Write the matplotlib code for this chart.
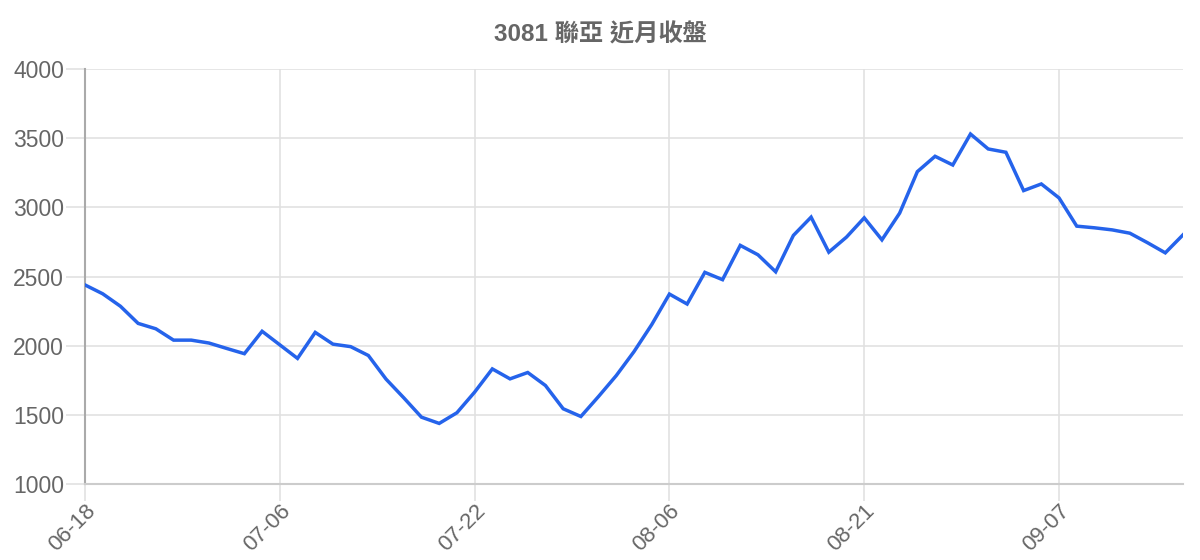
import numpy as np
import matplotlib
matplotlib.use("Agg")
import matplotlib.pyplot as plt

# closing prices (63 trading days)
close = [2439, 2375, 2285, 2161, 2122, 2040, 2040, 2019, 1980, 1942,
         2104, 2006, 1908, 2096, 2011, 1993, 1929, 1758, 1623, 1483,
         1438, 1515, 1664, 1832, 1760, 1806, 1712, 1544, 1488, 1633,
         1784, 1957, 2152, 2373, 2301, 2530, 2477, 2725, 2657, 2534,
         2797, 2929, 2676, 2785, 2924, 2765, 2958, 3258, 3369, 3306,
         3530, 3422, 3398, 3121, 3169, 3068, 2864, 2852, 2837, 2813,
         2744, 2671, 2801]
tick_idx = [0, 11, 22, 33, 44, 55]
tick_labels = ["06-18", "07-06", "07-22", "08-06", "08-21", "09-07"]
y_ticks = [1000, 1500, 2000, 2500, 3000, 3500, 4000]

title = "3081 聯亞 近月收盤"

grey = "#666666"
gridc = "#e1e1e1"

fig = plt.figure(figsize=(12, 5.6), dpi=100)
ax = fig.add_axes([85/1200, 1-484/560, (1183-85)/1200, (484-69)/560])

x = np.arange(len(close))
ax.plot(x, close, color="#2563eb", linewidth=2.5, solid_joinstyle="miter", zorder=3)

ax.set_xlim(0, len(close) - 1)
ax.set_ylim(1000, 4000)
ax.set_xticks(tick_idx)
ax.set_xticklabels(tick_labels, rotation=45, ha="right", va="top",
                   rotation_mode="anchor", fontsize=16, color=grey,
                   family=["Liberation Sans", "DejaVu Sans"])
ax.set_yticks(y_ticks)
ax.set_yticklabels([str(v) for v in y_ticks], fontsize=16.5, color=grey,
                   family=["Liberation Sans", "DejaVu Sans"])

ax.grid(True, color=gridc, linewidth=1.2)
ax.tick_params(axis="y", length=14, width=1.2, color=gridc, pad=1)
ax.tick_params(axis="x", length=12, width=1.2, color=gridc, pad=0)
for s in ["top", "right"]:
    ax.spines[s].set_visible(False)
ax.spines["left"].set_color("#aaaaaa")
ax.spines["left"].set_linewidth(1.5)
ax.spines["bottom"].set_color("#cccccc")
ax.spines["bottom"].set_linewidth(1.5)

fig.text(0.5, 1 - 35/560, title, ha="center", va="center", fontsize=17.5,
         fontweight="bold", color=grey,
         family=["Liberation Sans", "Noto Sans CJK TC", "DejaVu Sans"])

fig.savefig("out.png", dpi=100, facecolor="white")
